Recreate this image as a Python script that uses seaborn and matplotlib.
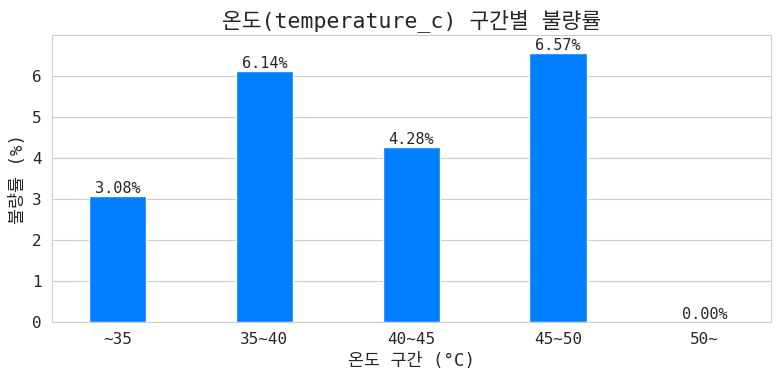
import pandas as pd
import seaborn as sns
import matplotlib.pyplot as plt

bins = ["~35", "35~40", "40~45", "45~50", "50~"]
defect_rate = [3.08, 6.14, 4.28, 6.57, 0.00]

df = pd.DataFrame({"bin": bins, "rate": defect_rate})

sns.set_style("whitegrid")
plt.rcParams['font.family'] = ['DejaVu Sans Mono', 'Noto Sans CJK KR']
plt.rcParams['axes.unicode_minus'] = False

fig, ax = plt.subplots(figsize=(7.81, 3.81), dpi=100)
sns.barplot(data=df, x="bin", y="rate", color="#007FFF", saturation=1, width=0.39, ax=ax)

for p, v in zip(ax.patches, defect_rate):
    ax.text(p.get_x() + p.get_width() / 2, v, f"{v:.2f}%",
            ha="center", va="bottom", fontsize=11)

ax.set_xlim(-0.45, 4.45)
ax.set_ylim(0, 7)
ax.set_yticks(range(0, 7))
ax.set_title("온도(temperature_c) 구간별 불량률", fontsize=15.5)
ax.set_xlabel("온도 구간 (°C)", fontsize=12.5)
ax.set_ylabel("불량률 (%)", fontsize=12.5)
ax.tick_params(labelsize=11.5)

fig.subplots_adjust(left=0.066, right=0.987, top=0.907, bottom=0.155)
plt.savefig("out.png", dpi=100)
